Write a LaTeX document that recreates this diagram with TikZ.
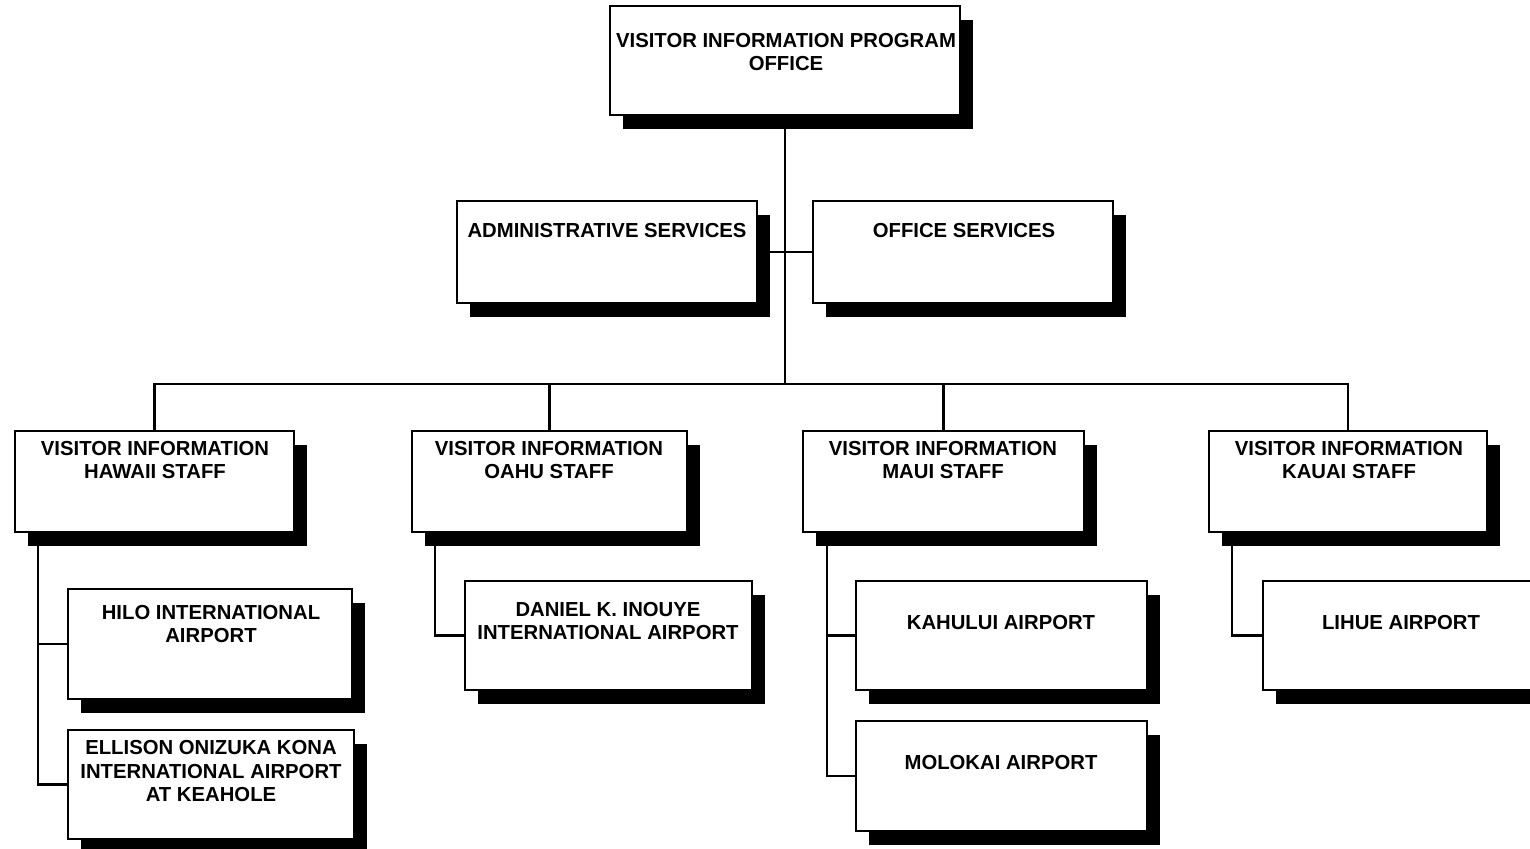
\documentclass[tikz,border=0pt]{standalone}
\usepackage{fontspec}
\setmainfont{Liberation Sans}
\usetikzlibrary{shadows,backgrounds,calc}

\tikzset{
	unit/.style={rectangle, draw, fill=white, line width=1.3pt, inner sep=0pt,
		drop shadow={shadow xshift=0.26cm, shadow yshift=-0.27cm, fill=black, opacity=1}},
	boxtext/.style={align=center, inner sep=0pt, font=\bfseries\fontsize{11.55}{13.4}\selectfont},
	link/.style={line width=1.3pt}
}

\begin{document}
\begin{tikzpicture}
		% Page frame
		\useasboundingbox (0, 0) rectangle (30.6, -16.96);
		\clip (0, 0) rectangle (30.6, -16.96);

		% Top office
		\node[unit, minimum width=7.0cm, minimum height=2.18cm] (prog) at (15.70, -1.21) {};

		% Services
		\node[unit, minimum width=6.0cm, minimum height=2.04cm] (admin) at (12.14, -5.04) {};
		\node[unit, minimum width=6.0cm, minimum height=2.04cm] (offsvc) at (19.26, -5.04) {};

		% Island staff
		\node[unit, minimum width=5.58cm, minimum height=2.02cm] (hawaii) at (3.09, -9.63) {};
		\node[unit, minimum width=5.50cm, minimum height=2.02cm] (oahu) at (10.99, -9.63) {};
		\node[unit, minimum width=5.62cm, minimum height=2.02cm] (maui) at (18.87, -9.63) {};
		\node[unit, minimum width=5.56cm, minimum height=2.02cm] (kauai) at (26.96, -9.63) {};

		% Airports
		\node[unit, minimum width=5.68cm, minimum height=2.20cm] (hilo) at (4.20, -12.88) {};
		\node[unit, minimum width=5.72cm, minimum height=2.18cm] (kona) at (4.22, -15.69) {};
		\node[unit, minimum width=5.74cm, minimum height=2.18cm] (inouye) at (12.17, -12.71) {};
		\node[unit, minimum width=5.82cm, minimum height=2.18cm] (kahului) at (20.03, -12.71) {};
		\node[unit, minimum width=5.82cm, minimum height=2.20cm] (molokai) at (20.03, -15.52) {};
		\node[unit, minimum width=5.74cm, minimum height=2.18cm] (lihue) at (28.13, -12.71) {};

		% Texts
		\node[boxtext] (prog-t) at (15.72, -1.04) {VISITOR INFORMATION PROGRAM\\OFFICE};
		\node[boxtext] (admin-t) at (12.14, -4.62) {ADMINISTRATIVE SERVICES};
		\node[boxtext] (offsvc-t) at (19.28, -4.62) {OFFICE SERVICES};
		\node[boxtext] (hawaii-t) at (3.10, -9.20) {VISITOR INFORMATION\\HAWAII STAFF};
		\node[boxtext] (oahu-t) at (10.98, -9.20) {VISITOR INFORMATION\\OAHU STAFF};
		\node[boxtext] (maui-t) at (18.86, -9.20) {VISITOR INFORMATION\\MAUI STAFF};
		\node[boxtext] (kauai-t) at (26.98, -9.20) {VISITOR INFORMATION\\KAUAI STAFF};
		\node[boxtext] (hilo-t) at (4.22, -12.48) {HILO INTERNATIONAL\\AIRPORT};
		\node[boxtext] (kona-t) at (4.22, -15.42) {ELLISON ONIZUKA KONA\\INTERNATIONAL AIRPORT\\AT KEAHOLE};
		\node[boxtext] (inouye-t) at (12.16, -12.42) {DANIEL K. INOUYE\\INTERNATIONAL AIRPORT};
		\node[boxtext] (kahului-t) at (20.02, -12.44) {KAHULUI AIRPORT};
		\node[boxtext] (molokai-t) at (20.02, -15.24) {MOLOKAI AIRPORT};
		\node[boxtext] (lihue-t) at (28.02, -12.44) {LIHUE AIRPORT};

		% Lines behind the boxes
		\begin{scope}[on background layer]
			\coordinate (bus) at (0, -7.68);
			\draw[link] (prog.south) -- (prog.south |- bus);
			\draw[link] (admin.east) -- (offsvc.west);
			\draw[link] (hawaii.north) |- (bus -| kauai.north) -- (kauai.north);
			\draw[link] (oahu.north) -- (oahu.north |- bus);
			\draw[link] (maui.north) -- (maui.north |- bus);

			\draw[link] ($(hawaii.south west)+(0.48, 0)$) |- (hilo.west);
			\draw[link] ($(hawaii.south west)+(0.48, 0)$) |- (kona.west);
			\draw[link] ($(oahu.south west)+(0.48, 0)$) |- (inouye.west);
			\draw[link] ($(maui.south west)+(0.50, 0)$) |- (kahului.west);
			\draw[link] ($(maui.south west)+(0.50, 0)$) |- (molokai.west);
			\draw[link] ($(kauai.south west)+(0.48, 0)$) |- (lihue.west);
		\end{scope}

	\end{tikzpicture}
\end{document}
